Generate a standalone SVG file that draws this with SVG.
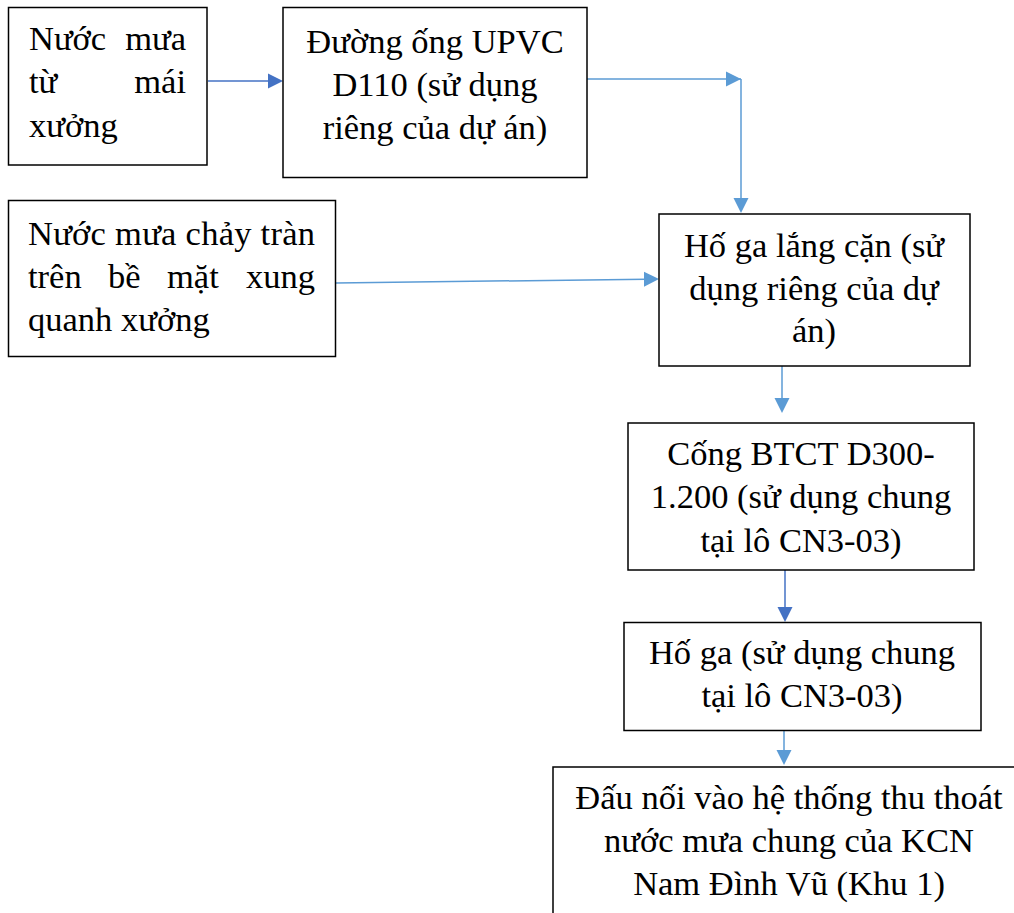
<svg xmlns="http://www.w3.org/2000/svg" width="1014" height="913" viewBox="0 0 1014 913">
<style>
.box{fill:#fff;stroke:#000;stroke-width:1.5}
.t{font-family:"Liberation Serif","Times New Roman",serif;font-size:34.5px;fill:#000}
.c{text-anchor:middle}
.e{text-anchor:end}
.l1{stroke:#5B9BD5;stroke-width:1.5;fill:none}
.l2{stroke:#4472C4;stroke-width:1.5;fill:none}
.h1{fill:#5B9BD5}
.h2{fill:#4472C4}
</style>
<rect width="1014" height="913" fill="#fff"/>
<g id="connectors">
<line class="l2" x1="208" y1="81" x2="270" y2="81"/>
<polygon class="h2" points="283,81 268,73.5 268,88.5"/>
<line class="l1" x1="587" y1="79" x2="741" y2="79"/>
<polygon class="h1" points="741,79 726,71.5 726,86.5"/>
<line class="l1" x1="741" y1="79" x2="741" y2="200"/>
<polygon class="h1" points="741,213 733.5,198 748.5,198"/>
<line class="l1" x1="336" y1="283" x2="646" y2="279.2"/>
<polygon class="h1" points="659,279 644,271.7 644,286.7"/>
<line class="l1" x1="782" y1="366" x2="782" y2="400"/>
<polygon class="h1" points="782,413 774.5,398 789.5,398"/>
<line class="l2" x1="785" y1="570" x2="785" y2="609"/>
<polygon class="h2" points="785,622 777.5,607 792.5,607"/>
<line class="l1" x1="784" y1="729" x2="784" y2="752"/>
<polygon class="h1" points="784,765 776.5,750 791.5,750"/>
</g>
<g id="n1">
<rect class="box" x="8.5" y="7.5" width="198.5" height="157.5"/>
<text class="t" x="29" y="50">Nước</text>
<text class="t e" x="186" y="50">mưa</text>
<text class="t" x="29" y="93">từ</text>
<text class="t e" x="186" y="93">mái</text>
<text class="t" x="29" y="137">xưởng</text>
</g>
<g id="n2">
<rect class="box" x="283" y="7.5" width="304" height="170"/>
<text class="t c" x="435" y="53">Đường ống UPVC</text>
<text class="t c" x="435" y="96">D110 (sử dụng</text>
<text class="t c" x="435" y="139">riêng của dự án)</text>
</g>
<g id="n3">
<rect class="box" x="8.5" y="200.5" width="327" height="156"/>
<text class="t" x="28" y="245" textLength="287" lengthAdjust="spacing">Nước mưa chảy tràn</text>
<text class="t" x="28" y="288">trên</text>
<text class="t" x="108" y="288">bề</text>
<text class="t" x="167" y="288">mặt</text>
<text class="t e" x="315" y="288">xung</text>
<text class="t" x="28" y="331">quanh xưởng</text>
</g>
<g id="n4">
<rect class="box" x="659" y="214" width="311" height="152"/>
<text class="t c" x="814" y="257">Hố ga lắng cặn (sử</text>
<text class="t c" x="814" y="300">dụng riêng của dự</text>
<text class="t c" x="814" y="342">án)</text>
</g>
<g id="n5">
<rect class="box" x="628" y="423" width="346" height="147"/>
<text class="t c" x="801" y="465">Cống BTCT D300-</text>
<text class="t c" x="801" y="508">1.200 (sử dụng chung</text>
<text class="t c" x="801" y="552">tại lô CN3-03)</text>
</g>
<g id="n6">
<rect class="box" x="624" y="622.5" width="357" height="108"/>
<text class="t c" x="802" y="664">Hố ga (sử dụng chung</text>
<text class="t c" x="802" y="707">tại lô CN3-03)</text>
</g>
<g id="n7">
<rect class="box" x="553" y="767" width="470" height="160"/>
<text class="t c" x="789" y="809">Đấu nối vào hệ thống thu thoát</text>
<text class="t c" x="789" y="852">nước mưa chung của KCN</text>
<text class="t c" x="789" y="895">Nam Đình Vũ (Khu 1)</text>
</g>
</svg>
